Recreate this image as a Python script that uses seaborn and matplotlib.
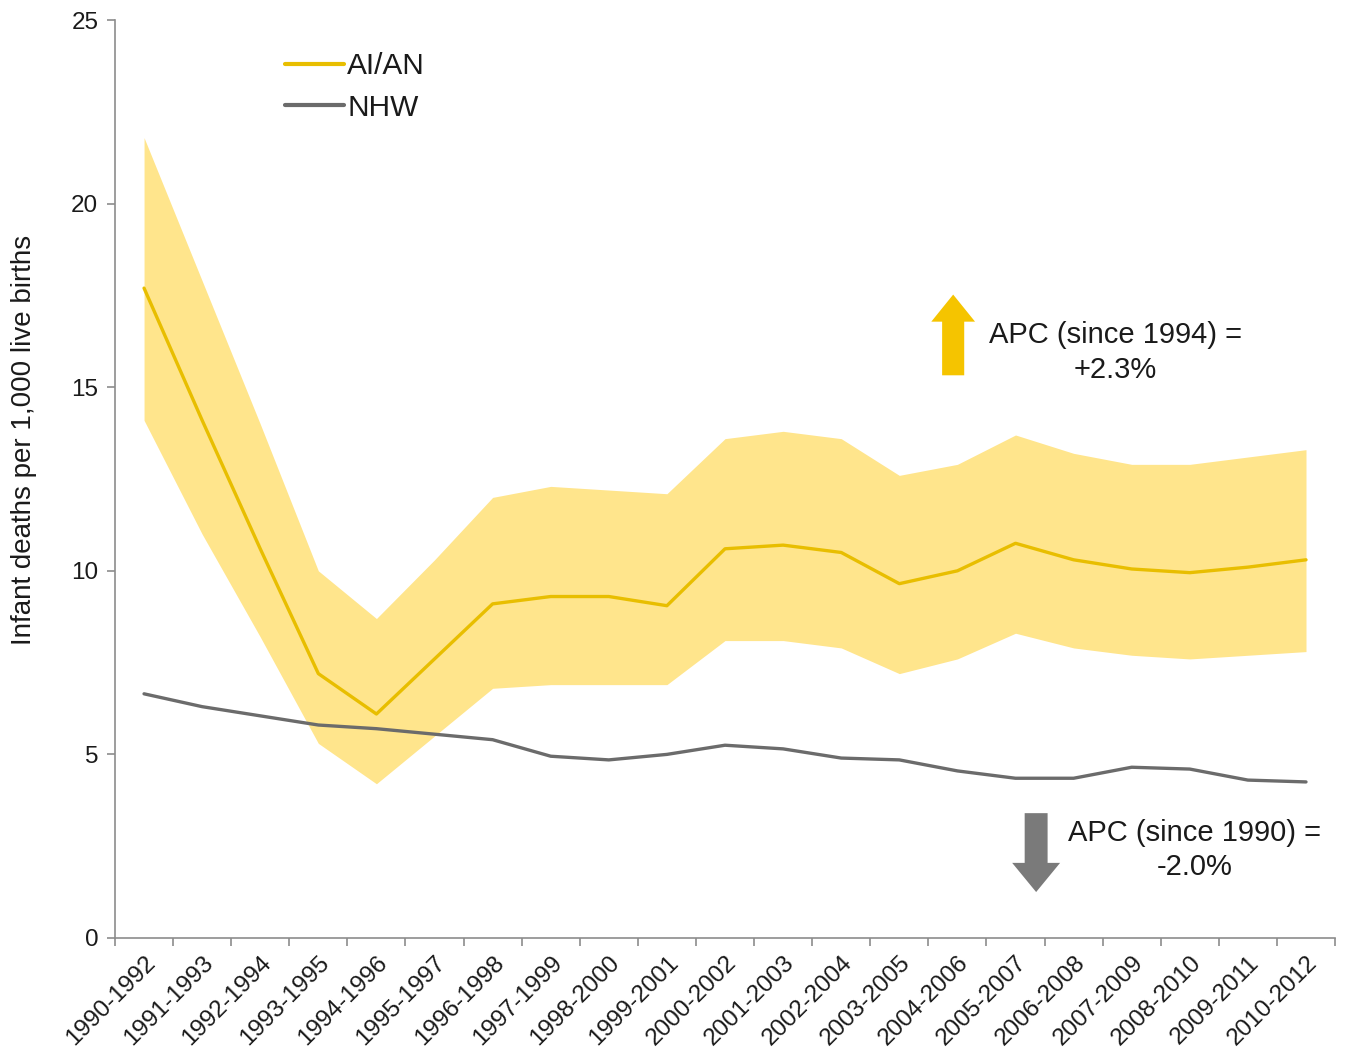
"""
Infant mortality, AI/AN vs NHW, 3-year rolling periods
"""

import numpy as np
import pandas as pd
import matplotlib
matplotlib.use("Agg")
import matplotlib.pyplot as plt
import seaborn as sns

# --- data ---
periods = [
    "1990-1992", "1991-1993", "1992-1994", "1993-1995", "1994-1996",
    "1995-1997", "1996-1998", "1997-1999", "1998-2000", "1999-2001",
    "2000-2002", "2001-2003", "2002-2004", "2003-2005", "2004-2006",
    "2005-2007", "2006-2008", "2007-2009", "2008-2010", "2009-2011",
    "2010-2012",
]
aian_rate = [17.7, 14.1, 10.6, 7.2, 6.1, 7.6, 9.1, 9.3, 9.3, 9.05, 10.6,
             10.7, 10.5, 9.65, 10.0, 10.75, 10.3, 10.05, 9.95, 10.1, 10.3]
aian_upper = [21.8, 17.9, 14.0, 10.0, 8.7, 10.3, 12.0, 12.3, 12.2, 12.1, 13.6,
              13.8, 13.6, 12.6, 12.9, 13.7, 13.2, 12.9, 12.9, 13.1, 13.3]
aian_lower = [14.1, 11.0, 8.2, 5.3, 4.2, 5.5, 6.8, 6.9, 6.9, 6.9, 8.1,
              8.1, 7.9, 7.2, 7.6, 8.3, 7.9, 7.7, 7.6, 7.7, 7.8]
nhw_rate = [6.65, 6.3, 6.05, 5.8, 5.7, 5.55, 5.4, 4.95, 4.85, 5.0, 5.25,
            5.15, 4.9, 4.85, 4.55, 4.35, 4.35, 4.65, 4.6, 4.3, 4.25]

series_names = ["AI/AN", "NHW"]
apc_aian = "APC (since 1994) =\n+2.3%"
apc_nhw = "APC (since 1990) =\n-2.0%"

GOLD = "#E8BE00"
BAND = "#FFE58C"
GREY = "#6B6B6B"
AXIS = "#8C8C8C"
TEXT = "#1A1A1A"

sns.set_style("white")
plt.rcParams["font.family"] = ["Liberation Sans", "DejaVu Sans"]

df = pd.DataFrame({
    "period": periods * 2,
    "x": list(range(len(periods))) * 2,
    "rate": aian_rate + nhw_rate,
    "group": [series_names[0]] * len(periods) + [series_names[1]] * len(periods),
})

fig = plt.figure(figsize=(13.45, 10.59), dpi=100)
ax = fig.add_axes([0.0855, 0.1143, 0.9071, 0.8667])

x = np.arange(len(periods))
ax.fill_between(x, aian_lower, aian_upper, color=BAND, lw=0, zorder=1)
sns.lineplot(data=df, x="x", y="rate", hue="group",
             palette={"AI/AN": GOLD, "NHW": GREY}, linewidth=2.4,
             ax=ax, zorder=3)

# axes limits / ticks (Excel style: ticks between categories)
ax.set_xlim(-0.5, len(periods) - 0.5)
ax.set_ylim(0, 25)
ax.set_yticks([0, 5, 10, 15, 20, 25])
ax.set_xticks(x)
ax.set_xticklabels(periods, rotation=45, ha="right", rotation_mode="anchor",
                   fontsize=17.5, color=TEXT)
ax.set_xticks(np.arange(-0.5, len(periods)), minor=True)
ax.tick_params(axis="x", which="major", length=0, pad=10)
ax.tick_params(axis="x", which="minor", length=6, color=AXIS, width=1.2,
               direction="out", bottom=True)
ax.tick_params(axis="y", length=6, color=AXIS, width=1.2, labelsize=17.5,
               labelcolor=TEXT, direction="out", left=True, pad=6)
ax.set_xlabel("")
ax.set_ylabel("Infant deaths per 1,000 live births", fontsize=20, color=TEXT)
ax.yaxis.set_label_coords(-0.064, 0.543)

for side in ["top", "right"]:
    ax.spines[side].set_visible(False)
for side in ["left", "bottom"]:
    ax.spines[side].set_color(AXIS)
    ax.spines[side].set_linewidth(1.2)

leg = ax.legend(loc="upper left", bbox_to_anchor=(0.139, 0.965), frameon=False,
                fontsize=21.5, handlelength=2.0, handletextpad=0.1,
                labelspacing=0.45, borderpad=0, borderaxespad=0)
for line in leg.get_lines():
    line.set_linewidth(3)
for t in leg.get_texts():
    t.set_color(TEXT)

# APC arrows and labels
ax.annotate("", xy=(0.687, 0.704), xytext=(0.687, 0.610),
            xycoords="axes fraction",
            arrowprops=dict(arrowstyle="simple,head_width=1.05,head_length=0.65,tail_width=0.53",
                            mutation_scale=30, color="#F5C400", lw=0))
ax.text(0.820, 0.638, apc_aian, transform=ax.transAxes, ha="center",
        va="center", fontsize=21, linespacing=1.3, color=TEXT)

ax.annotate("", xy=(0.755, 0.047), xytext=(0.755, 0.139),
            xycoords="axes fraction",
            arrowprops=dict(arrowstyle="simple,head_width=1.15,head_length=0.7,tail_width=0.55",
                            mutation_scale=30, color="#7A7A7A", lw=0))
ax.text(0.885, 0.096, apc_nhw, transform=ax.transAxes, ha="center",
        va="center", fontsize=21, linespacing=1.3, color=TEXT)

fig.savefig("out.png", dpi=100)
plt.close(fig)
